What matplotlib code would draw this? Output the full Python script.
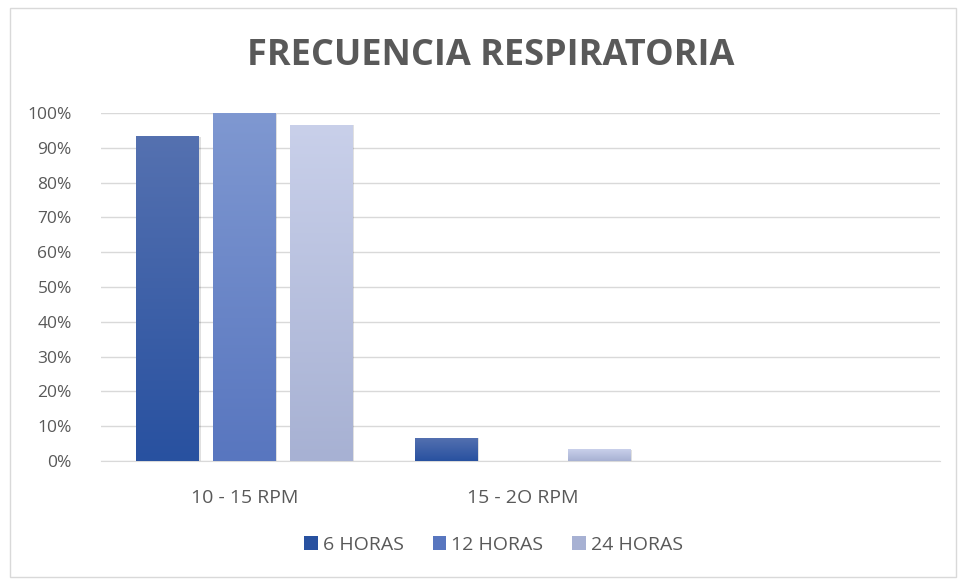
import numpy as np
import matplotlib.pyplot as plt
from matplotlib.colors import LinearSegmentedColormap
from matplotlib.patches import Rectangle
from matplotlib.ticker import PercentFormatter

plt.rcParams['font.family'] = ['Open Sans', 'DejaVu Sans']

# ── Data ─────────────────────────────────────────────────────────────────────
categories = ["10 - 15 RPM", "15 - 2O RPM", ""]
series_names = ["6 HORAS", "12 HORAS", "24 HORAS"]
h6 = [0.9333, 0.0667, 0.0]
h12 = [1.0, 0.0, 0.0]
h24 = [0.9667, 0.0333, 0.0]
series = [h6, h12, h24]

# (top colour, bottom colour) for each series gradient
grad = [("#5571b0", "#2851a0"), ("#7f98d1", "#5876bf"), ("#c9d0ea", "#a7b1d3")]
text_col = "#595959"

fig = plt.figure(figsize=(9.58, 5.79), dpi=100)
fig.patch.set_facecolor("white")
fig.add_artist(Rectangle((10 / 958, 2 / 579), 946 / 958, 569 / 579,
                         transform=fig.transFigure, fill=False,
                         edgecolor="#d9d9d9", lw=1))

ax = fig.add_axes([101 / 958, (579 - 461) / 579, 839 / 958, 348 / 579])
x = np.arange(len(categories))
width = 0.225
step = 0.275

for i, (vals, name, (ctop, cbot)) in enumerate(zip(series, series_names, grad)):
    bars = ax.bar(x + (i - 1) * step, vals, width, color=cbot, label=name,
                  zorder=3, linewidth=0)
    cmap = LinearSegmentedColormap.from_list(f"g{i}", [cbot, ctop])
    for b in bars:
        h = b.get_height()
        if h <= 0:
            continue
        bx, bw = b.get_x(), b.get_width()
        # soft shadow
        ax.add_patch(Rectangle((bx + 0.006, 0), bw, h - 0.002, color="#000000",
                               alpha=0.12, zorder=2, lw=0))
        img = ax.imshow(np.linspace(0, 1, 256).reshape(-1, 1) * np.ones((1, 2)),
                        cmap=cmap, origin="lower", aspect="auto",
                        extent=(bx, bx + bw, 0, h), zorder=4)
        img.set_clip_path(b)

ax.set_xlim(-0.515, 2.5)
ax.set_ylim(0, 1.0)
ax.set_xticks(x)
ax.set_xticklabels(categories)
ax.set_yticks(np.arange(0, 1.01, 0.1))
ax.yaxis.set_major_formatter(PercentFormatter(1.0, decimals=0))
ax.tick_params(axis="both", length=0, colors=text_col)
ax.tick_params(axis="x", pad=20, labelsize=14)
ax.tick_params(axis="y", pad=21, labelsize=12.5)
ax.grid(axis="y", color="#d9d9d9", lw=1, zorder=0)
for s in ["top", "right", "left"]:
    ax.spines[s].set_visible(False)
ax.spines["bottom"].set_color("#d9d9d9")

fig.text(491 / 958, 1 - 56 / 579, "FRECUENCIA RESPIRATORIA", ha="center",
         va="center", fontsize=26, fontweight="bold", color=text_col)

leg = fig.legend(*ax.get_legend_handles_labels(), loc="center",
                 bbox_to_anchor=(0.515, 1 - 545 / 579), ncol=3, frameon=False,
                 fontsize=14, handlelength=0.7, handleheight=0.7,
                 handletextpad=0.25, columnspacing=1.5, labelcolor=text_col)
for h, (ctop, cbot) in zip(leg.legend_handles, grad):
    h.set_facecolor(cbot)

plt.savefig("out.png", dpi=100, facecolor="white")
plt.close()
